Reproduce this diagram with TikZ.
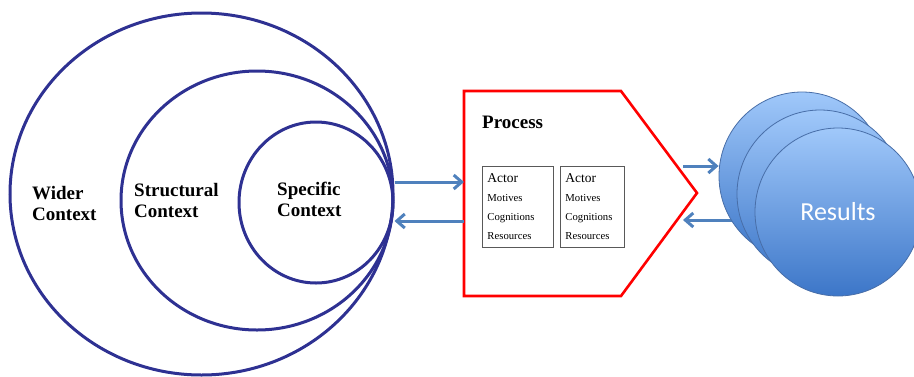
\documentclass[tikz,border=0pt]{standalone}
\usepackage{fontspec}
\setmainfont{Liberation Serif}
\newfontfamily\resultsfont{Carlito}
\usetikzlibrary{shapes.geometric,arrows.meta}

\definecolor{ctxblue}{RGB}{46,49,146}
\definecolor{flowblue}{RGB}{79,129,189}
\definecolor{restop}{RGB}{160,200,250}
\definecolor{resbot}{RGB}{60,118,200}
\definecolor{resline}{RGB}{72,110,168}

\newcommand{\actorlines}{{\fontsize{13.5}{15}\selectfont Actor}\\
  Motives\\Cognitions\\Resources}

\begin{document}
\begin{tikzpicture}[x=1pt, y=-1pt]
\tikzstyle{ctxcircle}=[ellipse, draw=ctxblue, line width=3pt, inner sep=0pt]
\tikzstyle{ctxlabel}=[font=\bfseries\fontsize{19}{21}\selectfont, align=left, anchor=north west, inner sep=0pt]
\tikzstyle{actorbox}=[rectangle, draw=black!65, line width=0.9pt, anchor=north west, align=left, font=\fontsize{10.7}{19}\selectfont, inner xsep=5pt, inner ysep=6pt, minimum height=81pt]
\tikzstyle{rescircle}=[ellipse, draw=resline, line width=0.8pt, top color=restop, bottom color=resbot, minimum width=166pt, minimum height=168pt]
\tikzstyle{flow}=[draw=flowblue, line width=3pt, -{Straight Barb[length=8pt,width=14pt]}]

\useasboundingbox (0,0) rectangle (914,376);

% nested context circles, touching on the right
\node[ctxcircle, minimum width=383pt, minimum height=362pt] (wider) at (201.5,194) {};
\node[ctxcircle, minimum width=272pt, minimum height=259pt] (struct) at (257,200.5) {};
\node[ctxcircle, minimum width=154pt, minimum height=161pt] (spec) at (316,202.5) {};
\node[ctxlabel] (widerlbl) at (32,186) {Wider\\Context};
\node[ctxlabel] (structlbl) at (134,183) {Structural\\Context};
\node[ctxlabel] (speclbl) at (277,182) {Specific\\Context};

% process outline
\coordinate (procNW) at (464,91);
\coordinate (procNE) at (621,91);
\coordinate (procTip) at (697,193);
\coordinate (procSE) at (621,296);
\coordinate (procSW) at (464,296);
\draw[red, line width=2.6pt] (procNW) -- (procNE) -- (procTip) -- (procSE) -- (procSW) -- cycle;
\node[font=\bfseries\fontsize{19}{21}\selectfont, anchor=base west, inner sep=0pt] (proclbl) at (482,128) {Process};
\node[actorbox, text width=61pt] (actor1) at (482,166) {\actorlines};
\node[actorbox, text width=54pt] (actor2) at (560,166) {\actorlines};

\draw[flow] (spec.east |- 0,182) -- (procNW |- 0,182);
\draw[flow] (procNW |- 0,221) -- (spec.east |- 0,221);

% results
\coordinate (outA) at (683,166);
\coordinate (backA) at (683,220);
\coordinate (backB) at (760,220);
\draw[flow] (backB) -- (backA);
\node[rescircle] (res1) at (802,176) {};
\node[rescircle] (res2) at (820,194) {};
\node[rescircle, font=\resultsfont\fontsize{26}{30}\selectfont, text=white] (res3) at (838,212) {Results};
\draw[flow] (outA) -- (outA -| res1.west);
\end{tikzpicture}
\end{document}
